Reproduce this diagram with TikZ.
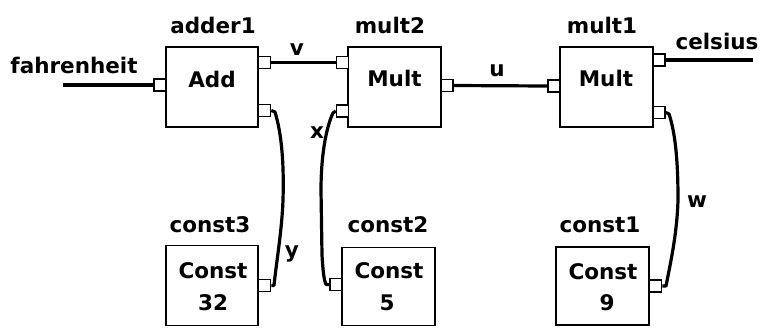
\documentclass[tikz,border=0pt]{standalone}
\usepackage{fontspec}
\setmainfont{DejaVu Sans}
\begin{document}
\begin{tikzpicture}[x=1pt,y=-1pt,
  every node/.style={font=\fontsize{21.5}{24}\selectfont\bfseries, inner sep=0pt, text=black},
  block/.style={draw, line width=1.8pt, fill=white, minimum width=92pt, minimum height=80pt},
  port/.style={draw, line width=1.5pt, fill=white, minimum width=12pt, minimum height=12pt},
  wire/.style={line width=3.2pt, line join=round},
  lbl/.style={anchor=base}]
\useasboundingbox (0,0) rectangle (763,327);
% blocks
\node[block] (adder1) at (212,87) {};
\node[block, minimum width=93pt] (mult2) at (394.5,87) {};
\node[block, minimum width=93pt] (mult1) at (606.5,87) {};
\node[block] (const3) at (212,285.5) {};
\node[block, minimum width=93pt, minimum height=78pt] (const2) at (388.5,286.5) {};
\node[block, minimum width=93pt, minimum height=78pt] (const1) at (602.5,286) {};
% ports
\node[port] (ain) at (160,85) {};
\node[port] (ao1) at (264.5,62.5) {};
\node[port] (ao2) at (264.5,110.5) {};
\node[port] (m2i1) at (342.5,62.5) {};
\node[port] (m2i2) at (342.5,111) {};
\node[port] (m2o) at (447,85.5) {};
\node[port] (m1i) at (554,86) {};
\node[port] (m1o1) at (659,60) {};
\node[port] (m1o2) at (659,112.5) {};
\node[port] (c3o) at (264.5,285.5) {};
\node[port] (c2i) at (336,284.5) {};
\node[port] (c1o) at (655.5,286) {};
% free ends
\coordinate (fin) at (63,85);
\coordinate (cout) at (753,60);
% wires
\draw[wire] (fin) -- (ain.west);
\draw[wire] (ao1.east) -- (m2i1.west);
\draw[wire] (m2o.east) -- (m1i.west);
\draw[wire] (m1o1.east) -- (cout);
\draw[wire] (ao2.east) -- (275,112) .. controls (282,135) and (284,165) .. (283,200) .. controls (282,230) and (276,265) .. (274,285.5) -- (c3o.east);
\draw[wire] (m2i2.west) -- (333,113) .. controls (325,130) and (321,160) .. (321,190) -- (322,255) .. controls (323,272) and (324,280) .. (326,284.5) -- (c2i.west);
\draw[wire] (m1o2.east) -- (669,114) .. controls (676,135) and (678,165) .. (678,200) .. controls (677,235) and (670,265) .. (666,286) -- (c1o.east);
% block texts
\node[lbl] (tadd) at (212,87) {Add};
\node[lbl] (tm2) at (394.5,86.5) {Mult};
\node[lbl] (tm1) at (606,86) {Mult};
\node[lbl] (tc3) at (213,278) {Const};
\node[lbl] (tc3v) at (213,310) {32};
\node[lbl] (tc2) at (389,278) {Const};
\node[lbl] (tc2v) at (387,310) {5};
\node[lbl] (tc1) at (603,279) {Const};
\node[lbl] (tc1v) at (607,310) {9};
% names
\node[lbl] (nadder1) at (213,33) {adder1};
\node[lbl] (nmult2) at (390,33) {mult2};
\node[lbl] (nmult1) at (602,33) {mult1};
\node[lbl] (nconst3) at (210,232) {const3};
\node[lbl] (nconst2) at (388,232) {const2};
\node[lbl] (nconst1) at (600,232) {const1};
% signal labels
\node[lbl] (lf) at (74,73) {fahrenheit};
\node[lbl] (lc) at (717,49) {celsius};
\node[lbl] (lv) at (297,55) {v};
\node[lbl] (lu) at (497,76) {u};
\node[lbl] (lx) at (317,138) {x};
\node[lbl] (ly) at (292,257) {y};
\node[lbl] (lw) at (697,207) {w};
\end{tikzpicture}
\end{document}
